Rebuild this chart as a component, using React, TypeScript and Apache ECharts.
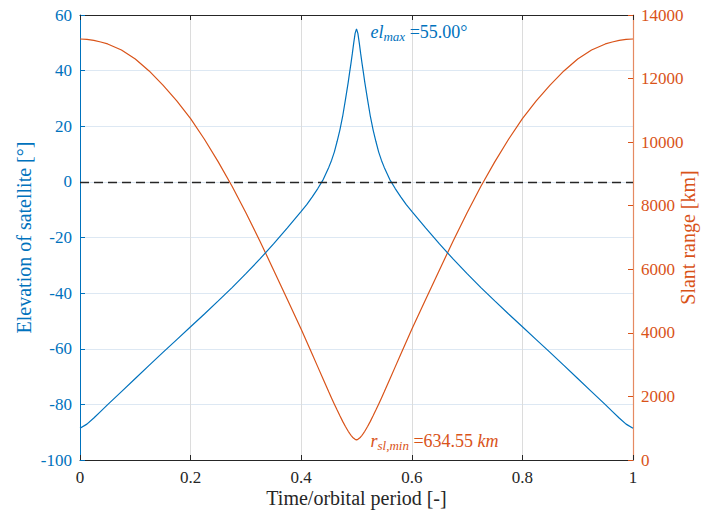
import React, { useEffect, useRef } from "react";
import * as echarts from "echarts";

const timeValues = [
  0, 0.0125, 0.025, 0.0375, 0.05, 0.075, 0.1, 0.125, 0.15, 0.175, 0.2, 0.225, 0.25, 0.275, 0.3, 0.325, 0.35, 0.375,
  0.4, 0.41, 0.42, 0.43, 0.44, 0.45, 0.455, 0.46, 0.465, 0.47, 0.475, 0.48, 0.485, 0.4875, 0.49, 0.4925, 0.495, 0.4975,
  0.5,
  0.5025, 0.505, 0.5075, 0.51, 0.5125, 0.515, 0.52, 0.525, 0.53, 0.535, 0.54, 0.545, 0.55, 0.56, 0.57, 0.58, 0.59, 0.6,
  0.625, 0.65, 0.675, 0.7, 0.725, 0.75, 0.775, 0.8, 0.825, 0.85, 0.875, 0.9, 0.925, 0.95, 0.9625, 0.975, 0.9875, 1,
];

const elevationValues = [
  -88.6, -87.1, -84.9, -82.5, -80.1, -75.4, -70.7, -66.0, -61.3, -56.7, -52.1, -47.5, -42.8, -38.0, -33.0, -27.8, -22.3,
  -16.5, -10.6, -8.2, -5.4, -2.4, 0.9, 5.3, 7.8, 10.8, 14.6, 18.7, 23.6, 29.6, 35.8, 39.3, 42.6, 46.2, 50.0, 53.4,
  55.0,
  53.4, 50.0, 46.2, 42.6, 39.3, 35.8, 29.6, 23.6, 18.7, 14.6, 10.8, 7.8, 5.3, 0.9, -2.4, -5.4, -8.2, -10.6, -16.5,
  -22.3, -27.8, -33.0, -38.0, -42.8, -47.5, -52.1, -56.7, -61.3, -66.0, -70.7, -75.4, -80.1, -82.5, -84.9, -87.1, -88.6,
];

const slantRangeValues = [
  13245, 13235, 13200, 13150, 13090, 12900, 12615, 12240, 11795, 11300, 10740, 10090, 9380, 8610, 7780, 6900, 5980,
  5050, 4110, 3720, 3325, 2930, 2535, 2140, 1945, 1755, 1570, 1390, 1215, 1055, 905, 840, 778, 725, 682, 650,
  634.55,
  650, 682, 725, 778, 840, 905, 1055, 1215, 1390, 1570, 1755, 1945, 2140, 2535, 2930, 3325, 3720, 4110, 5050, 5980,
  6900, 7780, 8610, 9380, 10090, 10740, 11300, 11795, 12240, 12615, 12900, 13090, 13150, 13200, 13235, 13245,
];

const elevationMax = { t: 0.5, value: 55.0, text: "55.00°" };
const rangeMin = { t: 0.5, value: 634.55, text: "634.55" };

const BLUE = "#0072BD";
const ORANGE = "#D95319";
const DARK = "#262626";
const FONT = "Liberation Serif";

export default function App() {
  const ref = useRef<HTMLDivElement>(null);

  useEffect(() => {
    if (!ref.current) return;
    const chart = echarts.init(ref.current, null, { renderer: "svg" });

    const elevData = timeValues.map((t, i) => [t, elevationValues[i]]);
    const rangeData = timeValues.map((t, i) => [t, slantRangeValues[i]]);

    const richBase = (color: string) => ({
      i: { fontFamily: FONT, fontStyle: "italic", fontSize: 18, color },
      s: { fontFamily: FONT, fontStyle: "italic", fontSize: 13, color, padding: [9, 0, 0, 0] },
      n: { fontFamily: FONT, fontSize: 18, color },
    });

    chart.setOption({
      animation: false,
      backgroundColor: "#ffffff",
      textStyle: { fontFamily: FONT },
      grid: { left: 80, right: 74, top: 15, bottom: 53, containLabel: false, outerBoundsMode: "none" },
      xAxis: [
        {
          type: "value",
          min: 0,
          max: 1,
          interval: 0.2,
          position: "bottom",
          name: "Time/orbital period [-]",
          nameLocation: "middle",
          nameGap: 28,
          nameMoveOverlap: false,
          nameTextStyle: { fontFamily: FONT, fontSize: 20, color: DARK },
          axisLine: { show: true, onZero: false, lineStyle: { color: DARK, width: 1 } },
          axisTick: { show: true, inside: true, length: 5, lineStyle: { color: DARK } },
          axisLabel: { fontFamily: FONT, fontSize: 17, color: DARK, margin: 9 },
          splitLine: { show: true, lineStyle: { color: "#dcdcdc", width: 1 } },
        },
        {
          type: "value",
          min: 0,
          max: 1,
          interval: 0.2,
          position: "top",
          axisLine: { show: true, onZero: false, lineStyle: { color: DARK, width: 1 } },
          axisTick: { show: true, inside: true, length: 5, lineStyle: { color: DARK } },
          axisLabel: { show: false },
          splitLine: { show: false },
        },
      ],
      yAxis: [
        {
          type: "value",
          min: -100,
          max: 60,
          interval: 20,
          position: "left",
          name: "Elevation of satellite [°]",
          nameLocation: "middle",
          nameGap: 46,
          nameMoveOverlap: false,
          nameTextStyle: { fontFamily: FONT, fontSize: 20, color: BLUE },
          axisLine: { show: true, onZero: false, lineStyle: { color: BLUE, width: 1 } },
          axisTick: { show: true, inside: true, length: 5, lineStyle: { color: BLUE } },
          axisLabel: { fontFamily: FONT, fontSize: 17, color: BLUE, margin: 8 },
          splitLine: { show: true, lineStyle: { color: "#dde8f3", width: 1 } },
        },
        {
          type: "value",
          min: 0,
          max: 14000,
          interval: 2000,
          position: "right",
          name: "Slant range [km]",
          nameLocation: "middle",
          nameGap: 45,
          nameRotate: 90,
          nameMoveOverlap: false,
          nameTextStyle: { fontFamily: FONT, fontSize: 20, color: ORANGE },
          axisLine: { show: true, onZero: false, lineStyle: { color: "#e58a62", width: 1.2 } },
          axisTick: { show: true, inside: true, length: 5, lineStyle: { color: ORANGE } },
          axisLabel: {
            fontFamily: FONT,
            fontSize: 17,
            color: ORANGE,
            margin: 8,
            formatter: (v: number) => String(v),
          },
          splitLine: { show: false },
        },
      ],
      series: [
        {
          name: "Elevation",
          type: "line",
          xAxisIndex: 0,
          yAxisIndex: 0,
          data: elevData,
          showSymbol: false,
          symbol: "none",
          smooth: false,
          lineStyle: { color: BLUE, width: 1.2 },
          z: 3,
          markLine: {
            silent: true,
            symbol: "none",
            label: { show: false },
            lineStyle: { color: DARK, type: [9, 5], width: 1.3 },
            data: [{ yAxis: 0 }],
            z: 4,
          },
          markPoint: {
            symbol: "circle",
            symbolSize: 0,
            data: [
              {
                coord: [elevationMax.t, elevationMax.value],
                label: {
                  show: true,
                  position: "right",
                  distance: 14,
                  offset: [0, 3],
                  formatter: "{i|el}{s|max}{n| =" + elevationMax.text + "}",
                  rich: richBase(BLUE),
                },
              },
            ],
          },
        },
        {
          name: "Slant range",
          type: "line",
          xAxisIndex: 0,
          yAxisIndex: 1,
          data: rangeData,
          showSymbol: false,
          symbol: "none",
          smooth: false,
          lineStyle: { color: ORANGE, width: 1.2 },
          z: 2,
          markPoint: {
            symbol: "circle",
            symbolSize: 0,
            data: [
              {
                coord: [rangeMin.t, rangeMin.value],
                label: {
                  show: true,
                  position: "right",
                  distance: 14,
                  offset: [0, 1],
                  formatter: "{i|r}{s|sl,min}{n| =" + rangeMin.text + " }{i|km}",
                  rich: richBase(ORANGE),
                },
              },
            ],
          },
        },
      ],
    });

    return () => chart.dispose();
  }, []);

  return (
    <div
      ref={ref}
      style={{ position: "fixed", left: 0, top: 0, width: 707, height: 513, background: "#fff" }}
    />
  );
}
